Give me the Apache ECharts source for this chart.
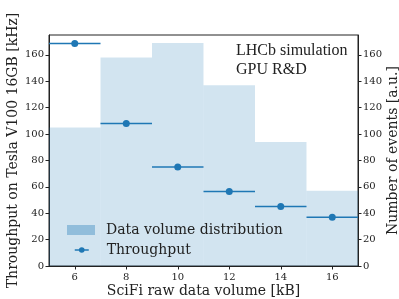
<!DOCTYPE html>
<html>
<head>
<meta charset="utf-8">
<script src="https://cdn.jsdelivr.net/npm/echarts@6/dist/echarts.min.js"></script>
<style>html,body{margin:0;padding:0;background:#fff;}#chart{width:399px;height:299px;}</style>
</head>
<body>
<div id="chart"></div>
<script>
// Histogram (data volume distribution): bin edges and heights [a.u.]
var binStart = [5, 7, 9, 11, 13, 15];
var binEnd   = [7, 9, 11, 13, 15, 17];
var binCount = [105, 158, 169, 137, 94, 57];
// Throughput points [kHz] with horizontal error (half bin width)
var tpX   = [6, 8, 10, 12, 14, 16];
var tpY   = [168.5, 108, 75, 56.5, 45, 37];
var tpErr = [1, 1, 1, 1, 1, 1];
var xTicks = [6, 8, 10, 12, 14, 16];

var BLUE = '#1f77b4';
var times = '"Liberation Serif", "Times New Roman", serif';
var dejavu = '"DejaVu Serif", serif';

var histData = binStart.map(function (s, i) { return [s, binEnd[i], binCount[i]]; });
var tpData = tpX.map(function (x, i) { return [x, tpY[i]]; });
var errData = tpX.map(function (x, i) { return [x - tpErr[i], x + tpErr[i], tpY[i]]; });

var chart = echarts.init(document.getElementById('chart'), null, {renderer: 'canvas'});
var axisLineStyle = {color: '#222', width: 1};
var nameStyle = {fontFamily: dejavu, fontSize: 14, color: '#222'};
chart.setOption({
  animation: false,
  grid: {left: 49, right: 41, top: 35, bottom: 33, show: true, borderColor: '#222', borderWidth: 1,
    backgroundColor: 'transparent', containLabel: false, outerBoundsMode: 'none'},
  xAxis: {
    type: 'value', min: 5, max: 17,
    name: 'SciFi raw data volume [kB]', nameLocation: 'middle', nameGap: 18, nameMoveOverlap: false,
    nameTextStyle: nameStyle,
    axisLine: {show: true, lineStyle: axisLineStyle},
    axisTick: {show: true, length: 3.5, lineStyle: axisLineStyle, customValues: xTicks},
    axisLabel: {fontFamily: dejavu, fontSize: 10, color: '#222', margin: 6, customValues: xTicks},
    splitLine: {show: false}
  },
  yAxis: [{
    type: 'value', min: 0, max: 175, interval: 20, position: 'left',
    name: 'Throughput on Tesla V100 16GB [kHz]', nameLocation: 'middle', nameGap: 29, nameMoveOverlap: false,
    nameTextStyle: nameStyle,
    axisLine: {show: true, lineStyle: axisLineStyle},
    axisTick: {show: true, length: 3.5, lineStyle: axisLineStyle},
    axisLabel: {fontFamily: dejavu, fontSize: 10, color: '#222', margin: 5, showMaxLabel: false},
    splitLine: {show: false}
  }, {
    type: 'value', min: 0, max: 175, interval: 20, position: 'right',
    name: 'Number of events [a.u.]', nameLocation: 'middle', nameGap: 28, nameMoveOverlap: false,
    nameTextStyle: nameStyle,
    axisLine: {show: true, lineStyle: axisLineStyle},
    axisTick: {show: true, length: 3.5, lineStyle: axisLineStyle},
    axisLabel: {fontFamily: dejavu, fontSize: 10, color: '#222', margin: 5, showMaxLabel: false},
    splitLine: {show: false}
  }],
  legend: [{
    orient: 'vertical', left: 62, top: 218, itemWidth: 28, itemHeight: 10,
    textStyle: {fontFamily: dejavu, fontSize: 14, color: '#222', padding: [0, 0, 0, 6]},
    data: [{name: 'Data volume distribution', icon: 'rect', itemStyle: {color: 'rgba(31,119,180,0.36)'}}]
  }, {
    orient: 'vertical', left: 69, top: 238, itemWidth: 14, itemHeight: 7,
    textStyle: {fontFamily: dejavu, fontSize: 14, color: '#222', padding: [0, 0, 0, 13]},
    data: [{name: 'Throughput', lineStyle: {width: 1.5, color: BLUE, opacity: 1}, itemStyle: {color: BLUE}}]
  }],
  graphic: [
    {type: 'text', style: {x: 236, y: 50.5, verticalAlign: 'middle', text: 'LHCb simulation', font: '16px ' + times, fill: '#222'}},
    {type: 'text', style: {x: 236, y: 69.5, verticalAlign: 'middle', text: 'GPU R&D', font: '16px ' + times, fill: '#222'}}
  ],
  series: [{
    name: 'Data volume distribution', type: 'custom', yAxisIndex: 1,
    data: histData, clip: true,
    renderItem: function (params, api) {
      var p0 = api.coord([api.value(0), api.value(2)]);
      var p1 = api.coord([api.value(1), 0]);
      return {type: 'rect', shape: {x: p0[0], y: p0[1], width: p1[0] - p0[0], height: p1[1] - p0[1]},
        style: {fill: 'rgba(31,119,180,0.2)'}};
    },
    itemStyle: {color: 'rgba(31,119,180,0.2)'}
  }, {
    name: 'Throughput', type: 'line', yAxisIndex: 0, data: tpData,
    symbol: 'circle', symbolSize: 7, showSymbol: true,
    itemStyle: {color: BLUE}, lineStyle: {opacity: 0, width: 0}, z: 4
  }, {
    name: 'Throughput', type: 'custom', yAxisIndex: 0, data: errData, z: 3,
    renderItem: function (params, api) {
      var a = api.coord([api.value(0), api.value(2)]);
      var b = api.coord([api.value(1), api.value(2)]);
      return {type: 'line', shape: {x1: a[0], y1: a[1], x2: b[0], y2: b[1]},
        style: {stroke: BLUE, lineWidth: 1.5}};
    },
    itemStyle: {color: BLUE}
  }]
});
</script>
</body>
</html>
